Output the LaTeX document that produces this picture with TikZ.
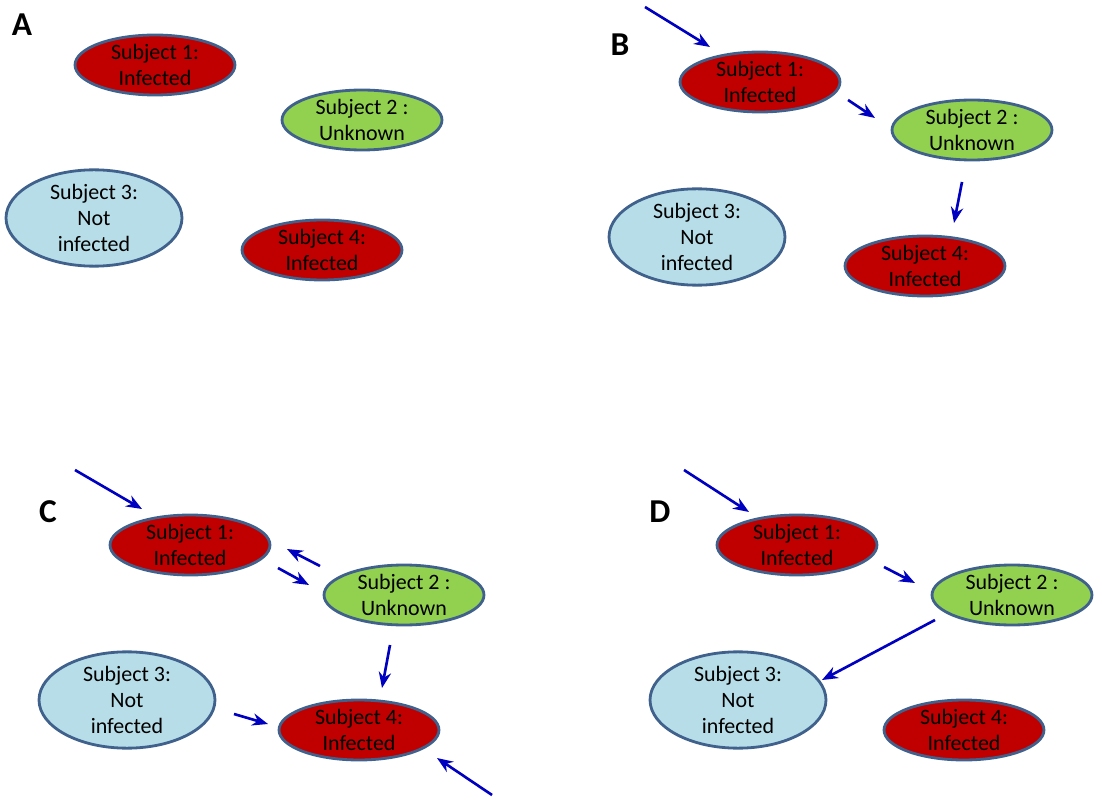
\documentclass[tikz,border=0pt]{standalone}
\usepackage{fontspec}
\setmainfont{Carlito}
\usetikzlibrary{shapes.geometric,arrows.meta}
\tikzset{
  subj/.style={ellipse,draw=ellipseborder,line width=1.6pt,inner sep=0pt,
    minimum width=160\pxu,minimum height=60\pxu,align=center,font=\fontsize{12.5}{15}\selectfont},
  inf/.style={subj,fill=infred},
  unk/.style={subj,fill=unkgreen},
  notinf/.style={subj,fill=notblue,minimum width=176\pxu,minimum height=74\pxu},
  lab/.style={font=\bfseries\fontsize{19}{22}\selectfont},
  flow/.style={draw=arrowblue,line width=1.5pt,-{Stealth[length=9pt,width=7pt]}}
}
\definecolor{infred}{HTML}{C00000}
\definecolor{unkgreen}{HTML}{92D050}
\definecolor{notblue}{HTML}{B7DEE8}
\definecolor{ellipseborder}{HTML}{41618D}
\definecolor{arrowblue}{HTML}{0000C0}
\def\pxu{*0.2mm}
\begin{document}
\begin{tikzpicture}[x=0.02cm,y=-0.02cm]
\useasboundingbox (0,0) rectangle (1102,800);
% panel A
\node[lab] (la) at (22,25) {A};
\node[inf] (a1) at (155,65) {Subject 1:\\Infected};
\node[unk] (a2) at (362,120) {Subject 2 :\\Unknown};
\node[notinf] (a3) at (94,218) {Subject 3:\\Not\\infected};
\node[inf] (a4) at (322,250) {Subject 4:\\Infected};
% panel B
\node[lab] (lb) at (620,45) {B};
\node[inf] (b1) at (760,82) {Subject 1:\\Infected};
\node[unk] (b2) at (972,130) {Subject 2 :\\Unknown};
\node[notinf] (b3) at (697,237) {Subject 3:\\Not\\infected};
\node[inf] (b4) at (925,266) {Subject 4:\\Infected};
\coordinate (b0) at (645,7);
\draw[flow] (b0) -- (710,47);
\draw[flow] (848,100) -- (875,118);
\draw[flow] (962,182) -- (954,223);
% panel C
\node[lab] (lc) at (48,512) {C};
\node[inf] (c1) at (190,545) {Subject 1:\\Infected};
\node[unk] (c2) at (404,595) {Subject 2 :\\Unknown};
\node[notinf] (c3) at (127,700) {Subject 3:\\Not\\infected};
\node[inf] (c4) at (359,730) {Subject 4:\\Infected};
\coordinate (c0) at (75,470);
\coordinate (c5) at (492,795);
\draw[flow] (c0) -- (142,509);
\draw[flow] (320,566) -- (287,549);
\draw[flow] (278,568) -- (309,585);
\draw[flow] (390,645) -- (382,688);
\draw[flow] (234,714) -- (268,724);
\draw[flow] (c5) -- (437,758);
% panel D
\node[lab] (ld) at (660,512) {D};
\node[inf] (d1) at (797,545) {Subject 1:\\Infected};
\node[unk] (d2) at (1012,595) {Subject 2 :\\Unknown};
\node[notinf] (d3) at (738,700) {Subject 3:\\Not\\infected};
\node[inf] (d4) at (964,730) {Subject 4:\\Infected};
\coordinate (d0) at (684,470);
\draw[flow] (d0) -- (749,512);
\draw[flow] (884,567) -- (915,583);
\draw[flow] (935,620) -- (822,680);
\end{tikzpicture}
\end{document}
